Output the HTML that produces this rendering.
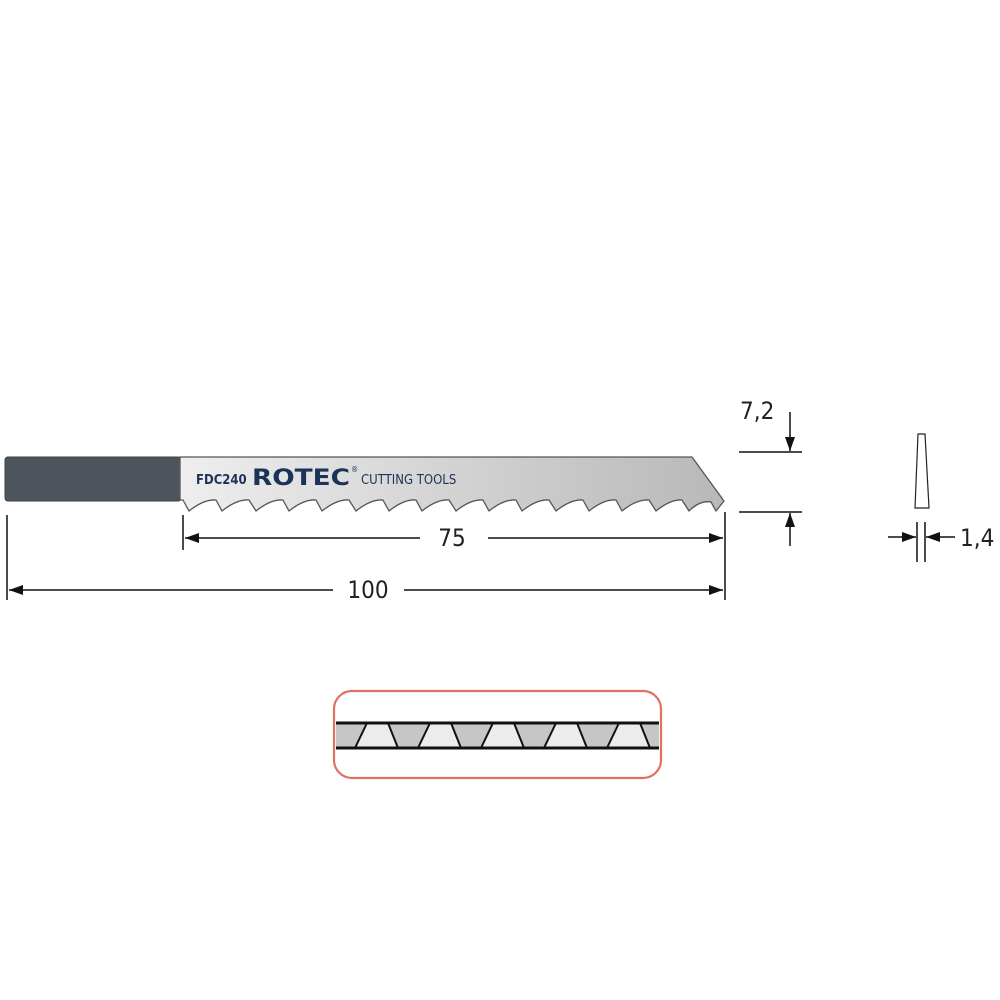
<!DOCTYPE html>
<html><head><meta charset="utf-8"><style>
html,body{margin:0;padding:0;background:#fff;}
svg{display:block;}
text{font-family:"DejaVu Sans Condensed","Liberation Sans",sans-serif;}
</style></head><body>
<svg width="1000" height="1000" viewBox="0 0 1000 1000" xmlns="http://www.w3.org/2000/svg">
<defs>
<linearGradient id="g" x1="0" y1="0" x2="1" y2="0">
<stop offset="0" stop-color="#eeeeee"/><stop offset="1" stop-color="#b8b8b8"/>
</linearGradient>
<marker id="b" viewBox="0 0 14 10" refX="14" refY="5" markerWidth="14" markerHeight="10" markerUnits="userSpaceOnUse" orient="auto-start-reverse"><path d="M0,0 L14,5 L0,10 z" fill="#111"/></marker>
</defs>
<rect x="5" y="457" width="176" height="44" rx="3" fill="#4d545b" stroke="#3a3f44" stroke-width="1"/>
<path fill="url(#g)" stroke="#555" stroke-width="1.3" stroke-linejoin="round" d="
M180,457 L692,457 L724,501 L716,511 L711,502
Q700,500 689,511 L682,500
Q671,499 656,511 L649,500
Q637,499 622,511 L616,500
Q604,499 589,511 L583,500
Q571,499 556,511 L549,500
Q537,499 522,511 L516,500
Q504,499 489,511 L483,500
Q471,499 456,511 L449,500
Q437,499 422,511 L416,500
Q404,499 389,511 L383,500
Q371,499 356,511 L349,500
Q337,499 322,511 L316,500
Q304,499 289,511 L283,500
Q271,499 256,511 L249,500
Q237,499 222,511 L216,500
Q204,499 189,511 L183,500 L180,500 Z"/>
<text x="196" y="484" font-size="13" font-weight="bold" fill="#1c3358">FDC240</text>
<text x="252" y="485" font-size="22" font-weight="bold" fill="#1c3358" textLength="98" lengthAdjust="spacingAndGlyphs">ROTEC</text>
<text x="351" y="472" font-size="8" fill="#1c3358">®</text>
<text x="361" y="484" font-size="13" fill="#1c3358">CUTTING TOOLS</text>
<g stroke="#111" stroke-width="1.5" fill="none">
<line x1="7" y1="515" x2="7" y2="600"/>
<line x1="183" y1="515" x2="183" y2="550"/>
<line x1="725" y1="512" x2="725" y2="600"/>
<line x1="185" y1="538" x2="420" y2="538" marker-start="url(#b)"/>
<line x1="488" y1="538" x2="723" y2="538" marker-end="url(#b)"/>
<line x1="9" y1="590" x2="333" y2="590" marker-start="url(#b)"/>
<line x1="404" y1="590" x2="723" y2="590" marker-end="url(#b)"/>
<line x1="739" y1="452" x2="802" y2="452"/>
<line x1="739" y1="512" x2="802" y2="512"/>
<line x1="790" y1="412" x2="790" y2="451" marker-end="url(#b)"/>
<line x1="790" y1="546" x2="790" y2="513" marker-end="url(#b)"/>
<line x1="917" y1="522" x2="917" y2="562"/>
<line x1="925" y1="522" x2="925" y2="562"/>
<line x1="888" y1="537" x2="916" y2="537" marker-end="url(#b)"/>
<line x1="955" y1="537" x2="926" y2="537" marker-end="url(#b)"/>
</g>
<polygon points="918,434 925,434 929,508 915,508" fill="#fff" stroke="#222" stroke-width="1.2"/>
<g font-size="24" fill="#222">
<text x="452" y="546" text-anchor="middle">75</text>
<text x="368" y="598" text-anchor="middle">100</text>
<text x="740" y="419">7,2</text>
<text x="960" y="546">1,4</text>
</g>
<rect x="334" y="691" width="327" height="87" rx="18" fill="#fff" stroke="#e07060" stroke-width="2.2"/>
<rect x="336" y="723" width="323" height="25" fill="#c6c6c6"/>
<g fill="#ececec" stroke="#111" stroke-width="2">
<polygon points="367,723 388,723 398,748 355,748"/>
<polygon points="430,723 451,723 461,748 418,748"/>
<polygon points="493,723 514,723 524,748 481,748"/>
<polygon points="556,723 577,723 587,748 544,748"/>
<polygon points="619,723 640,723 650,748 607,748"/>
</g>
<line x1="336" y1="723" x2="659" y2="723" stroke="#111" stroke-width="3"/>
<line x1="336" y1="748" x2="659" y2="748" stroke="#111" stroke-width="3"/>
</svg>
</body></html>
